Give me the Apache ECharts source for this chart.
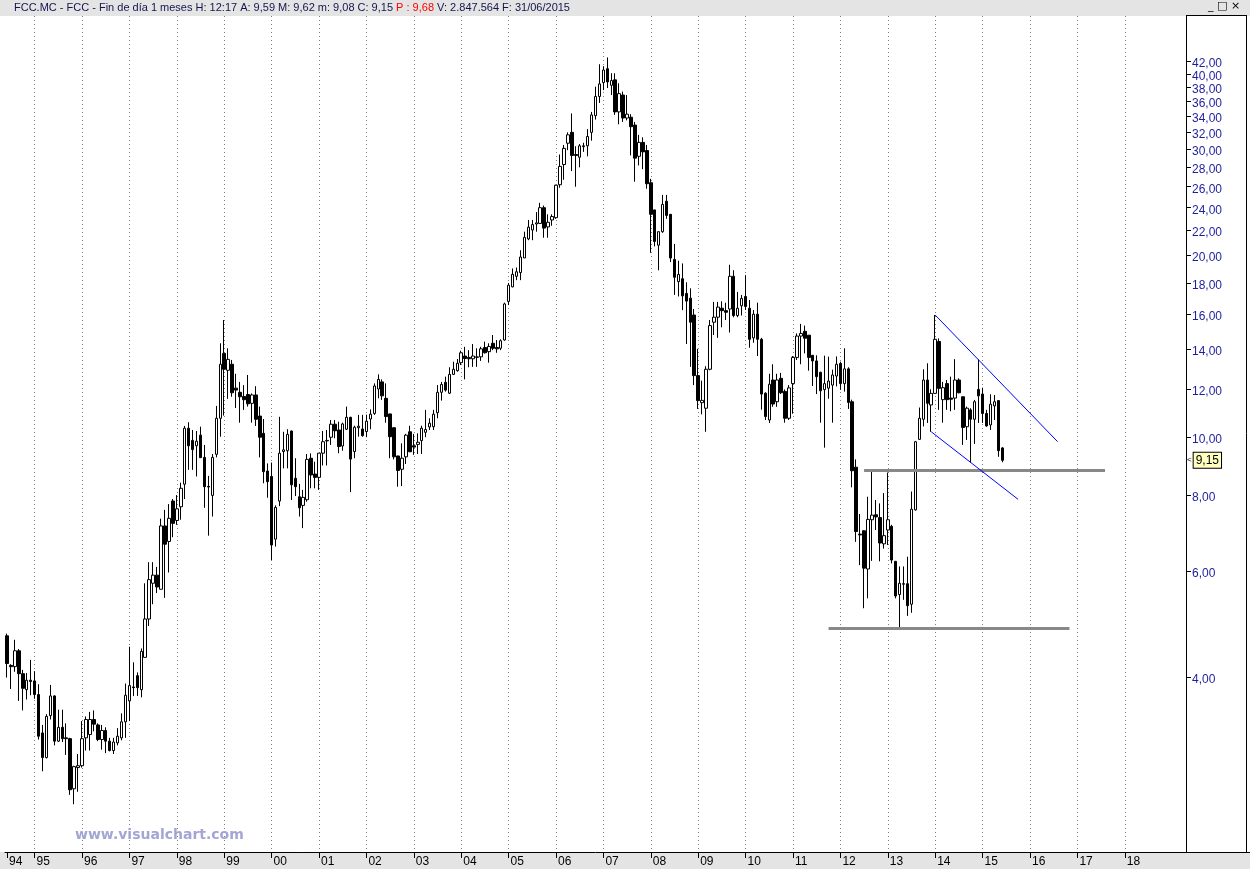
<!DOCTYPE html>
<html>
<head>
<meta charset="utf-8">
<script src="https://cdn.jsdelivr.net/npm/echarts@6/dist/echarts.min.js"></script>
<style>html,body{margin:0;padding:0;background:#fff}#c{width:1250px;height:869px}</style>
</head>
<body>
<div id="c"></div>
<script>
// Monthly bars, each row = [open, high, low, close]; first bar is June 1994
const y1994 = [[4.68,4.72,3.99,4.21],[4.18,4.20,3.82,4.16],[4.16,4.61,4.08,4.42],[4.42,4.45,3.65,4.05],[4.05,4.11,3.52,3.83],[3.81,4.06,3.67,3.95],[3.95,4.27,3.73,3.93]];
const y1995 = [[3.94,4.09,3.68,3.74],[3.74,3.89,3.15,3.19],[3.23,3.33,2.79,2.94],[2.94,3.47,2.93,3.44],[3.45,3.88,3.40,3.72],[3.72,3.73,3.08,3.13],[3.13,3.53,3.12,3.30],[3.30,3.53,3.12,3.16],[3.17,3.35,2.97,3.16],[3.16,3.17,2.55,2.60],[2.61,2.85,2.46,2.84],[2.83,2.98,2.58,2.85]];
const y1996 = [[2.85,3.38,2.83,3.16],[3.17,3.44,3.02,3.40],[3.21,3.50,3.02,3.40],[3.40,3.52,3.25,3.34],[3.33,3.35,3.13,3.15],[3.15,3.33,3.03,3.26],[3.26,3.30,2.99,3.13],[3.13,3.17,3.01,3.02],[3.02,3.17,2.98,3.12],[3.11,3.29,3.08,3.19],[3.17,3.48,3.14,3.37],[3.37,3.90,3.17,3.73]];
const y1997 = [[3.65,4.49,3.38,3.87],[3.85,4.23,3.72,3.84],[4.02,4.07,3.72,3.84],[3.81,4.46,3.70,4.41],[4.31,5.72,4.31,4.99],[4.99,6.20,4.86,5.80],[5.72,6.20,5.28,5.90],[5.90,6.09,5.51,5.64],[5.59,7.32,5.59,7.12],[7.12,7.57,5.41,6.64],[6.71,7.74,5.96,7.33],[7.83,7.89,6.82,7.19]];
const y1998 = [[7.27,8.01,7.15,7.60],[7.66,8.40,7.29,8.22],[8.35,10.43,7.89,10.34],[10.34,10.58,8.82,9.67],[9.87,10.27,8.82,9.53],[9.67,10.23,8.60,9.84],[10.07,10.40,9.24,9.24],[9.25,9.70,7.63,8.27],[8.28,8.62,6.86,8.26],[8.00,9.37,7.38,9.25],[9.36,11.26,9.25,10.74],[10.74,14.30,10.01,13.20]];
const y1999 = [[13.76,15.63,10.85,12.95],[12.90,14.03,11.57,13.45],[13.20,13.42,11.66,11.84],[12.05,12.73,11.17,11.96],[11.86,12.34,10.56,11.66],[11.67,12.19,11.09,11.53],[11.76,12.67,11.23,11.35],[11.37,11.81,10.56,11.74],[11.74,12.14,10.43,10.70],[10.83,11.23,9.25,9.99],[10.14,10.71,8.38,8.76],[8.78,9.04,7.93,8.43]];
const y2000 = [[8.60,9.07,6.25,6.62],[6.77,7.70,6.58,7.64],[7.83,10.80,7.68,9.40],[9.46,10.20,8.87,9.52],[9.49,10.30,8.87,10.10],[10.23,10.25,7.86,8.33],[8.54,9.22,7.98,8.27],[7.96,8.36,7.38,7.63],[7.70,8.17,7.06,7.94],[7.87,9.37,7.81,9.18],[9.22,9.39,8.22,8.65],[8.68,9.10,8.22,8.57]];
const y2001 = [[8.57,9.40,8.17,9.40],[9.40,10.23,8.97,9.82],[9.85,10.27,8.97,9.87],[9.99,10.67,9.70,10.50],[10.50,10.67,9.95,10.24],[10.27,10.60,9.40,9.64],[9.66,10.56,9.49,10.51],[10.30,11.23,10.27,10.78],[10.78,10.80,8.10,9.19],[9.46,10.44,9.22,10.38],[10.36,10.88,10.01,10.42],[10.31,10.88,10.01,10.05]];
const y2002 = [[10.21,10.89,9.99,10.62],[10.71,11.11,10.30,10.91],[10.94,12.27,10.88,12.15],[12.01,12.70,11.59,12.46],[12.34,12.46,11.52,11.70],[11.59,12.27,10.56,10.81],[10.92,10.93,9.22,10.01],[10.36,10.37,9.18,9.27],[9.30,9.31,8.27,8.80],[8.84,9.76,8.29,9.22],[9.27,10.12,9.02,10.07],[10.20,10.44,9.45,9.45]];
const y2003 = [[9.67,10.12,9.34,9.62],[9.72,10.14,9.37,9.80],[9.86,10.44,9.37,10.34],[10.18,11.09,9.99,10.29],[10.39,10.74,10.27,10.54],[10.40,11.09,10.27,10.91],[10.97,12.19,10.74,11.86],[11.86,12.34,11.49,12.22],[12.32,12.59,11.89,11.96],[11.82,13.05,11.78,12.70],[12.70,13.33,12.67,12.95],[12.88,13.47,12.83,13.25]];
const y2004 = [[13.28,13.90,13.16,13.79],[13.62,14.11,12.46,13.49],[13.55,13.93,13.05,13.48],[13.48,14.26,13.07,13.62],[13.55,14.03,13.07,13.58],[13.58,14.11,13.37,14.00],[14.07,14.39,13.76,13.79],[13.85,14.30,13.28,14.13],[14.30,14.76,13.93,14.03],[14.07,14.48,13.79,14.00],[14.03,14.52,13.93,14.44],[14.48,16.70,14.44,16.62]];
const y2005 = [[16.78,18.00,16.55,17.85],[17.74,19.03,17.71,18.61],[18.47,19.10,18.20,18.79],[18.73,20.40,18.20,19.88],[19.81,21.90,19.80,21.43],[21.30,22.90,21.20,22.28],[22.04,22.90,21.20,22.50],[22.55,23.60,21.90,22.65],[22.60,24.45,22.60,24.00],[24.00,24.20,21.40,22.20],[22.30,23.40,21.40,22.70],[22.90,23.40,22.40,23.20]];
const y2006 = [[23.10,26.20,23.00,26.15],[26.20,29.40,25.90,28.10],[28.30,30.50,26.70,30.10],[30.70,32.00,29.90,31.70],[32.00,34.40,27.60,29.30],[29.40,30.35,26.00,29.30],[29.10,30.60,28.00,30.40],[30.30,30.75,29.70,30.40],[30.40,32.40,29.20,31.50],[32.00,34.60,31.00,34.20],[34.10,38.10,33.60,36.70],[36.70,41.50,35.80,38.50]];
const y2007 = [[38.70,41.20,37.60,40.60],[40.80,42.60,37.90,38.80],[38.30,40.10,36.90,39.00],[39.10,40.10,34.20,34.60],[34.60,38.60,33.00,37.10],[36.90,37.40,33.30,33.80],[33.80,36.90,33.50,34.30],[33.90,34.30,29.30,32.70],[32.90,33.30,26.50,29.00],[29.20,31.70,28.20,30.80],[30.80,31.40,27.80,29.70],[29.85,30.50,25.80,26.30]];
const y2008 = [[26.40,26.80,20.20,23.40],[23.80,23.80,20.70,21.10],[20.80,21.90,18.90,21.90],[21.90,25.20,21.80,24.30],[24.60,25.20,23.00,23.30],[23.40,23.40,19.50,19.80],[19.70,20.90,17.20,18.40],[18.10,19.60,17.10,18.60],[18.30,19.40,16.23,17.14],[17.30,18.05,14.26,16.80],[16.99,17.64,13.07,15.50],[15.93,16.30,12.19,12.64]];
const y2009 = [[12.64,14.00,11.13,11.49],[11.40,12.40,10.90,11.50],[11.16,13.10,10.20,12.95],[12.95,15.63,12.90,15.30],[15.50,16.75,14.76,15.80],[15.80,16.75,14.60,16.42],[16.35,16.79,15.20,16.20],[16.20,16.70,15.63,16.10],[16.30,19.30,14.90,18.47],[18.47,18.90,15.80,15.90],[15.90,17.40,15.80,16.35],[16.50,17.20,15.90,16.97]];
const y2010 = [[17.10,18.55,16.24,16.46],[16.35,16.87,14.06,14.52],[14.60,16.24,14.33,15.98],[15.98,16.70,13.62,14.52],[14.52,14.60,11.10,11.78],[11.82,11.86,10.67,10.81],[10.67,12.73,10.55,12.23],[12.43,13.20,11.22,11.34],[11.44,12.73,11.22,12.43],[12.51,12.77,11.78,11.84],[11.90,11.99,10.56,10.74],[10.74,12.19,10.67,12.06]];
const y2011 = [[12.26,13.62,10.93,13.55],[13.55,14.85,13.42,14.70],[14.70,15.40,13.20,14.85],[14.97,15.30,13.76,14.58],[14.75,14.75,12.88,13.55],[13.66,13.66,12.15,13.37],[13.37,13.66,11.78,12.59],[12.80,12.83,10.56,11.93],[11.98,13.64,9.60,12.26],[12.05,13.59,11.57,12.38],[12.19,12.93,10.56,12.67],[12.62,13.60,12.13,13.20]];
const y2012 = [[13.24,13.33,11.97,12.26],[12.26,14.03,11.89,12.97],[12.97,13.05,11.13,11.41],[11.44,11.53,8.25,8.79],[8.91,9.18,6.70,6.97],[6.90,7.45,6.13,6.88],[6.99,7.00,5.20,6.06],[6.04,7.96,5.40,7.30],[7.29,8.78,6.23,7.42],[7.43,7.86,7.01,7.37],[7.35,7.76,6.22,6.67],[6.65,8.07,6.53,6.86]];
const y2013 = [[7.01,8.73,6.62,7.29],[7.11,7.15,6.17,6.25],[6.22,6.22,5.40,5.45],[5.48,6.10,4.82,5.72],[5.71,6.10,5.37,5.70],[5.71,6.33,5.05,5.25],[5.28,8.12,5.11,7.59],[7.57,9.85,7.55,9.82],[9.91,11.19,9.89,10.74],[10.70,12.95,10.41,12.43],[12.43,13.25,10.55,11.37],[11.30,12.00,10.20,11.81]];
const y2014 = [[11.81,15.93,11.81,14.52],[14.40,14.57,11.09,12.04],[11.53,12.34,10.56,12.07],[12.26,12.43,11.09,11.53],[11.60,12.59,11.03,11.55],[11.60,13.46,11.09,12.43],[12.43,12.51,11.81,11.84],[11.66,11.66,9.70,10.37],[10.40,11.23,9.89,11.16],[11.09,11.16,9.07,10.70],[10.70,11.52,9.74,11.44],[11.99,13.45,10.55,11.70]];
const y2015 = [[11.78,12.07,10.55,10.94],[10.94,11.09,10.40,10.43],[10.47,11.77,10.27,11.33],[11.26,11.74,10.67,11.44],[11.49,11.49,9.27,9.49],[9.59,9.62,9.08,9.15]];

const firstYear = 1994, firstMonth = 6, axisMonths = 299, lastLabelYear = 2018;
const yTickValues = [4,6,8,10,12,14,16,18,20,22,24,26,28,30,32,34,36,38,40,42];
const lastClose = 9.15;
// horizontal support lines: [from month, to month, level]
const supportLines = [['2012-07','2017-08',8.82],['2011-10','2016-11',4.82]];
// channel lines: [[from month, value], [to month, value]]
const channelLines = [[['2014-01',15.93],['2016-08',9.82]],[['2013-12',10.2],['2015-10',7.88]]];
const headerText = 'FCC.MC - FCC - Fin de día 1 meses H: 12:17 A: 9,59 M: 9,62 m: 9,08 C: 9,15 ';
const headerRed = 'P : 9,68';
const headerTail = ' V: 2.847.564 F: 31/06/2015';

const rows = [].concat(y1994,y1995,y1996,y1997,y1998,y1999,y2000,y2001,y2002,y2003,y2004,y2005,y2006,y2007,y2008,y2009,y2010,y2011,y2012,y2013,y2014,y2015);
const candles = rows.map(r => [r[0], r[3], r[2], r[1]]);
const categories = [];
for (let k = 0; k < axisMonths; k++) {
  const m = firstYear * 12 + (firstMonth - 1) + k;
  categories.push(Math.floor(m / 12) + '-' + String(m % 12 + 1).padStart(2, '0'));
}
const isJan = (idx, val) => val.slice(5) === '01' && +val.slice(0, 4) <= lastLabelYear;
const isLabel = (idx, val) => idx === 0 || isJan(idx, val);

const markData = [];
supportLines.forEach(s => markData.push([
  {coord: [s[0], s[2]], lineStyle: {color: '#888888', width: 3, type: 'solid'}},
  {coord: [s[1], s[2]]}
]));
channelLines.forEach(c => markData.push([
  {coord: c[0], lineStyle: {color: '#0000ff', width: 1, type: 'solid'}},
  {coord: c[1]}
]));
markData.push({
  yAxis: lastClose,
  lineStyle: {color: 'rgba(0,0,0,0)', width: 0},
  label: {
    show: true, position: 'end', distance: 1,
    formatter: '{a|<}{b|' + lastClose.toFixed(2).replace('.', ',') + '}',
    rich: {
      a: {fontSize: 8, color: '#000', padding: [0, 2, 0, 0], fontFamily: 'Liberation Sans'},
      b: {fontSize: 12, color: '#000', backgroundColor: '#ffffc0', borderColor: '#000', borderWidth: 1, padding: [2, 2, 1, 2], fontFamily: 'Liberation Sans'}
    }
  }
});

const chart = echarts.init(document.getElementById('c'));
chart.setOption({
  animation: false,
  backgroundColor: '#fff',
  grid: {left: 5, right: 64, top: 16, bottom: 17},
  xAxis: {
    type: 'category', data: categories, boundaryGap: true,
    axisLine: {show: true, lineStyle: {color: '#000', width: 1}},
    axisTick: {show: true, interval: isLabel, alignWithLabel: true, length: 6, lineStyle: {color: '#000'}},
    axisLabel: {interval: isLabel, formatter: v => v.slice(2, 4), align: 'left', margin: 4, color: '#000',
      fontSize: 12, fontFamily: 'Liberation Sans', padding: [0, 0, 0, 2]},
    splitLine: {show: true, interval: isJan, alignWithLabel: true, lineStyle: {color: '#808080', type: [1, 3], width: 1}}
  },
  yAxis: {
    type: 'log', logBase: 10, position: 'right', min: 2.05, max: 49.9,
    axisLine: {show: true, lineStyle: {color: '#000', width: 1}},
    axisTick: {show: true, customValues: yTickValues, length: 5, lineStyle: {color: '#000'}},
    axisLabel: {customValues: yTickValues, formatter: v => '{v|' + Number(v).toFixed(2).replace('.', ',') + '}',
      margin: 6,
      rich: {v: {color: '#1e1ea0', fontSize: 12, fontFamily: 'Liberation Sans', padding: [5, 0, 0, 0]}}},
    splitLine: {show: false}
  },
  series: [{
    type: 'candlestick', data: candles, barWidth: 3, clip: false,
    itemStyle: {color: '#ffffff', color0: '#000000', borderColor: '#000000', borderColor0: '#000000', borderColorDoji: '#000000', borderWidth: 1},
    markLine: {silent: true, symbol: ['none', 'none'], animation: false, label: {show: false}, data: markData}
  }],
  graphic: [
    {type: 'rect', z: -1, shape: {x: 0, y: 0, width: 1250, height: 16}, style: {fill: '#e4e4e4'}},
    {type: 'rect', z: -1, shape: {x: 0, y: 852, width: 1250, height: 17}, style: {fill: '#e4e4e4'}},
    {type: 'text', z: 10, x: 14, y: 2, style: {
      text: '{n|' + headerText + '}{r|' + headerRed + '}{n|' + headerTail + '}',
      rich: {n: {fill: '#141450', fontSize: 11, fontFamily: 'Liberation Sans'}, r: {fill: '#ff0000', fontSize: 11, fontFamily: 'Liberation Sans'}}
    }},
    {type: 'text', z: 10, x: 1208, y: 1, style: {text: '_ □ ×', fill: '#000', fontSize: 11, fontFamily: 'DejaVu Sans'}},
    {type: 'line', z: 10, shape: {x1: 1186, y1: 15.5, x2: 1246, y2: 15.5}, style: {stroke: '#000', lineWidth: 1}},
    {type: 'line', z: 10, shape: {x1: 1246.5, y1: 15, x2: 1246.5, y2: 852}, style: {stroke: '#000', lineWidth: 1}},
    {type: 'line', z: 10, shape: {x1: 1186, y1: 852.5, x2: 1250, y2: 852.5}, style: {stroke: '#000', lineWidth: 1}},
    {type: 'text', z: 10, x: 75, y: 828, style: {text: 'www.visualchart.com', fill: '#a3a6d3', fontSize: 14, fontWeight: 'bold', fontFamily: 'DejaVu Sans'}}
  ]
});
</script>
</body>
</html>
